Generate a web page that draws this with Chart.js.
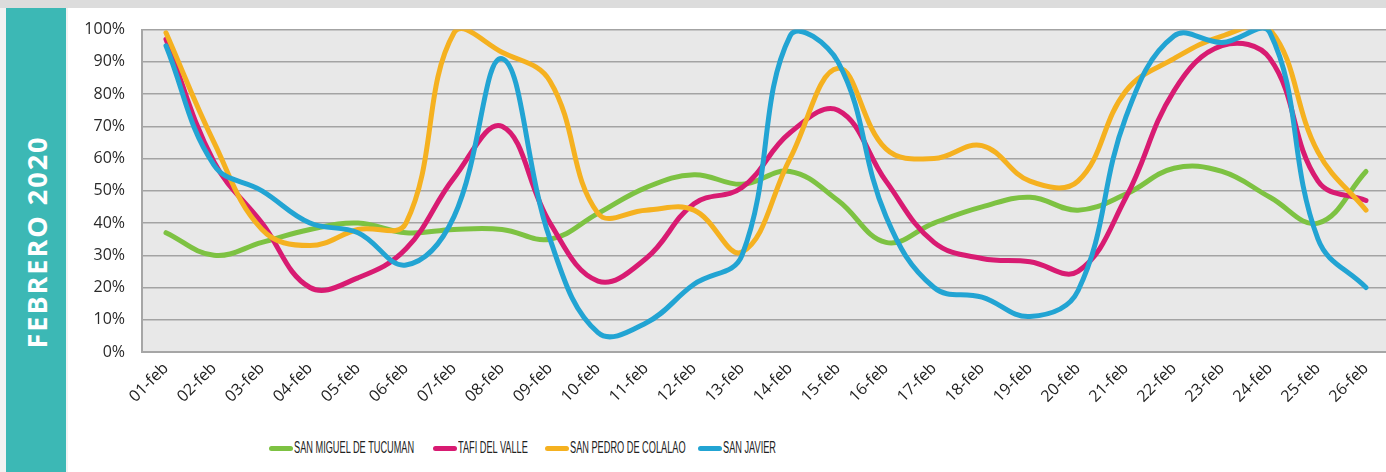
<!DOCTYPE html>
<html>
<head>
<meta charset="utf-8">
<script src="https://cdn.jsdelivr.net/npm/chart.js@4/dist/chart.umd.min.js"></script>
<style>
  html, body { margin:0; padding:0; }
  body { width:1386px; height:472px; overflow:hidden; background:#f2f2f2; position:relative; font-family:"Open Sans", sans-serif; }
  #topband { position:absolute; left:0; top:0; width:1386px; height:8px; background:#dcdcdc; }
  #side { position:absolute; left:6px; top:8px; width:60px; height:464px; background:#3cb8b5; }
  #sidetext { position:absolute; left:36px; top:242px; transform:translate(-50%,-50%) rotate(-90deg); color:#fff; font-family:"Open Sans", sans-serif; font-weight:700; font-size:27px; letter-spacing:2px; white-space:nowrap; }
  #card { position:absolute; left:68px; top:8px; width:1330px; height:464px; background:#fff; }
  #wrap { position:absolute; left:66px; top:3px; width:1324px; height:425px; }
  #legend { position:absolute; left:0; top:438px; width:1386px; height:20px; }
  .li { position:absolute; top:0; height:20px; display:flex; align-items:center; white-space:nowrap; }
  .sw { display:inline-block; width:24px; height:5px; border-radius:3px; margin-right:1px; }
  .tx { display:inline-block; font-family:"Liberation Sans",sans-serif; font-size:16px; color:#222; transform:scaleX(0.575); transform-origin:left center; }
</style>
</head>
<body>
<div id="topband"></div>
<div id="card"></div>
<div id="side"></div>
<div id="sidetext">FEBRERO 2020</div>
<div id="wrap"><canvas id="c" width="1324" height="425"></canvas></div>
<div id="legend"></div>
<script>
const categories = ["01-feb","02-feb","03-feb","04-feb","05-feb","06-feb","07-feb","08-feb","09-feb","10-feb","11-feb","12-feb","13-feb","14-feb","15-feb","16-feb","17-feb","18-feb","19-feb","20-feb","21-feb","22-feb","23-feb","24-feb","25-feb","26-feb"];
const yTickLabels = ["0%","10%","20%","30%","40%","50%","60%","70%","80%","90%","100%"];
const seriesNames = ["SAN MIGUEL DE TUCUMAN","TAFI DEL VALLE","SAN PEDRO DE COLALAO","SAN JAVIER"];
const seriesColors = ["#7dc242","#d81b72","#f5b120","#22a4d3"];
const sanMiguel = [37,30,34,38,40,37,38,38,35,43,51,55,52,56,47,34,40,45,48,44,49,57,56,48,40,56];
const tafi      = [97,59,40,20,23,32,54,70,40,22,29,46,51,68,75,53,34,29,28,25,48,81,95,91,53,47];
const sanPedro  = [99,65,38,33,38,40,99,93,84,43,44,44,31,60,88,63,60,64,53,53,81,91,98,100,62,44];
const sanJavier = [95,58,50,40,37,27,42,91,35,6,9,21,30,98,90,42,20,17,11,19,73,98,96,99,35,20];
const legendX = [269, 433, 545, 698];

const seriesData = [sanMiguel, tafi, sanPedro, sanJavier];

const bgPlugin = {
  id: 'plotBg',
  beforeDraw(chart) {
    const {ctx, chartArea:a} = chart;
    ctx.save();
    ctx.fillStyle = '#e8e8e8';
    ctx.fillRect(a.left, a.top, a.right - a.left, a.bottom - a.top);
    ctx.restore();
  }
};

new Chart(document.getElementById('c'), {
  type: 'line',
  data: {
    labels: categories,
    datasets: seriesData.map((d, i) => ({
      label: seriesNames[i],
      data: d,
      borderColor: seriesColors[i],
      backgroundColor: seriesColors[i],
      borderWidth: 5,
      pointRadius: 0,
      pointHoverRadius: 0,
      tension: 0.4,
      fill: false,
      borderCapStyle: 'round',
      borderJoinStyle: 'round',
      order: 4 - i
    }))
  },
  options: {
    responsive: false,
    animation: false,
    events: [],
    layout: { padding: { top: 0, left: 0, right: 0, bottom: 0 } },
    elements: { line: { capBezierPoints: false } },
    plugins: { legend: { display: false }, tooltip: { enabled: false } },
    scales: {
      x: {
        offset: true,
        grid: { display: false, drawTicks: false },
        border: { display: true, color: '#a6a6a6', width: 2 },
        ticks: {
          color: '#1e1e1e',
          font: { family: 'Open Sans', size: 16 },
          minRotation: 45, maxRotation: 45,
          padding: 7,
          autoSkip: false
        },
        afterFit(s) { s.height = 76; }
      },
      y: {
        min: 0, max: 100,
        grid: { color: '#a3a3a3', lineWidth: 1.5, drawTicks: false },
        border: { display: true, color: '#a6a6a6', width: 2 },
        ticks: {
          stepSize: 10,
          color: '#2a2a2a',
          font: { family: 'Open Sans', size: 16 },
          padding: 17,
          callback: (v, idx) => yTickLabels[idx]
        },
        afterFit(s) { s.width = 76; }
      }
    }
  },
  plugins: [bgPlugin]
});

const lg = document.getElementById('legend');
seriesNames.forEach((n, i) => {
  const el = document.createElement('div');
  el.className = 'li';
  el.style.left = legendX[i] + 'px';
  const sw = document.createElement('span');
  sw.className = 'sw';
  sw.style.background = seriesColors[i];
  const tx = document.createElement('span');
  tx.className = 'tx';
  tx.textContent = n;
  el.appendChild(sw);
  el.appendChild(tx);
  lg.appendChild(el);
});
</script>
</body>
</html>
